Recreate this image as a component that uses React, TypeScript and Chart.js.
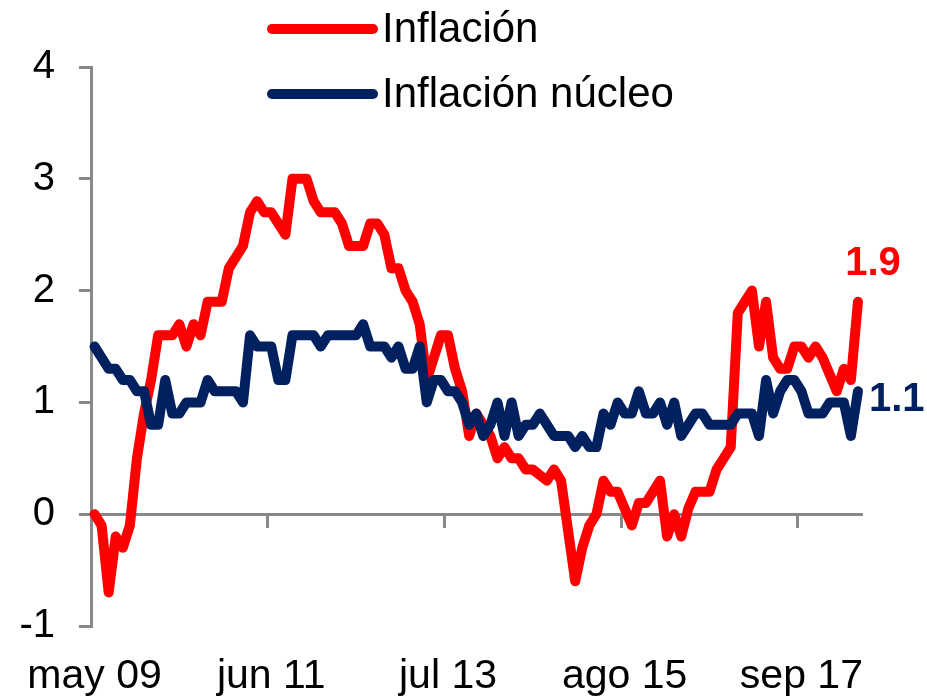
import React, { useEffect, useRef } from 'react';
import { Chart, registerables } from 'chart.js';

Chart.register(...registerables);

// ---- Data ----
const MONTHS = ['ene', 'feb', 'mar', 'abr', 'may', 'jun', 'jul', 'ago', 'sep', 'oct', 'nov', 'dic'];
const START_MONTH = 4; // may
const START_YEAR = 2009;

const inflacion = [
  0.0, -0.1, -0.7, -0.2, -0.3, -0.1, 0.5, 0.9, 1.2, 1.6,
  1.6, 1.6, 1.7, 1.5, 1.7, 1.6, 1.9, 1.9, 1.9, 2.2,
  2.3, 2.4, 2.7, 2.8, 2.7, 2.7, 2.6, 2.5, 3.0, 3.0,
  3.0, 2.8, 2.7, 2.7, 2.7, 2.6, 2.4, 2.4, 2.4, 2.6,
  2.6, 2.5, 2.2, 2.2, 2.0, 1.9, 1.7, 1.2, 1.4, 1.6,
  1.6, 1.3, 1.1, 0.7, 0.9, 0.8, 0.7, 0.5, 0.6, 0.5,
  0.5, 0.4, 0.4, 0.35, 0.3, 0.4, 0.3, -0.15, -0.6, -0.3,
  -0.1, 0.0, 0.3, 0.2, 0.2, 0.05, -0.1, 0.1, 0.1, 0.2,
  0.3, -0.2, 0.0, -0.2, 0.05, 0.2, 0.2, 0.2, 0.4, 0.5,
  0.6, 1.8, 1.9, 2.0, 1.5, 1.9, 1.4, 1.3, 1.3, 1.5,
  1.5, 1.4, 1.5, 1.4, 1.25, 1.1, 1.3, 1.2, 1.9,
];

const inflacionNucleo = [
  1.5, 1.4, 1.3, 1.3, 1.2, 1.2, 1.1, 1.1, 0.8, 0.8,
  1.2, 0.9, 0.9, 1.0, 1.0, 1.0, 1.2, 1.1, 1.1, 1.1,
  1.1, 1.0, 1.6, 1.5, 1.5, 1.5, 1.2, 1.2, 1.6, 1.6,
  1.6, 1.6, 1.5, 1.6, 1.6, 1.6, 1.6, 1.6, 1.7, 1.5,
  1.5, 1.5, 1.4, 1.5, 1.3, 1.3, 1.5, 1.0, 1.2, 1.2,
  1.1, 1.1, 1.0, 0.8, 0.9, 0.7, 0.8, 1.0, 0.7, 1.0,
  0.7, 0.8, 0.8, 0.9, 0.8, 0.7, 0.7, 0.7, 0.6, 0.7,
  0.6, 0.6, 0.9, 0.8, 1.0, 0.9, 0.9, 1.1, 0.9, 0.9,
  1.0, 0.8, 1.0, 0.7, 0.8, 0.9, 0.9, 0.8, 0.8, 0.8,
  0.8, 0.9, 0.9, 0.9, 0.7, 1.2, 0.9, 1.1, 1.2, 1.2,
  1.1, 0.9, 0.9, 0.9, 1.0, 1.0, 1.0, 0.7, 1.1,
];

const seriesLabels = ['Inflación', 'Inflación núcleo'];
const seriesColors = ['#FF0000', '#002060'];

// month categories: may 09 ... may 18
const categories = inflacion.map((_, i) => {
  const m = START_MONTH + i;
  const yy = String((START_YEAR + Math.floor(m / 12)) % 100).padStart(2, '0');
  return MONTHS[m % 12] + ' ' + yy;
});

const xLabelIndices = [0, 25, 50, 75, 100]; // may 09, jun 11, jul 13, ago 15, sep 17
const yTicks = [-1, 0, 1, 2, 3, 4];

// ---- Styles ----
const FONT = '"Liberation Sans", Arial, Helvetica, sans-serif';
const AXIS_GRAY = '#898989';

const overlayPlugin = {
  id: 'overlay',
  afterDraw(chart: any) {
    const ctx = chart.ctx as CanvasRenderingContext2D;
    ctx.save();
    // legend (stacked, top)
    const legendRows = [29, 94];
    chart.data.datasets.forEach((ds: any, i: number) => {
      const y = legendRows[i];
      ctx.strokeStyle = ds.borderColor;
      ctx.lineWidth = 10;
      ctx.lineCap = 'round';
      ctx.beginPath();
      ctx.moveTo(272, y);
      ctx.lineTo(373, y);
      ctx.stroke();
      ctx.fillStyle = '#000000';
      ctx.font = '42px ' + FONT;
      ctx.textAlign = 'left';
      ctx.textBaseline = 'middle';
      ctx.fillText(ds.label, 382, y + 1);
    });
    // end-of-series value labels
    const offsets = [
      { dx: 15, dy: -38, align: 'center' },
      { dx: 11, dy: 9, align: 'left' },
    ];
    chart.data.datasets.forEach((ds: any, i: number) => {
      const meta = chart.getDatasetMeta(i);
      const pt = meta.data[meta.data.length - 1];
      const val = ds.data[ds.data.length - 1].y;
      const o = offsets[i];
      ctx.fillStyle = ds.borderColor;
      ctx.font = 'bold 40px ' + FONT;
      ctx.textAlign = o.align as CanvasTextAlign;
      ctx.textBaseline = 'middle';
      ctx.fillText(val.toFixed(1), pt.x + o.dx, pt.y + o.dy);
    });
    ctx.restore();
  },
};

export default function App() {
  const ref = useRef<HTMLCanvasElement | null>(null);

  useEffect(() => {
    document.body.style.margin = '0';
    document.body.style.overflow = 'hidden';
    const canvas = ref.current;
    if (!canvas) return;
    const series = [inflacion, inflacionNucleo];
    const chart = new Chart(canvas, {
      type: 'line',
      data: {
        datasets: series.map((s, k) => ({
          label: seriesLabels[k],
          data: s.map((v, i) => ({ x: i, y: v })),
          borderColor: seriesColors[k],
          backgroundColor: seriesColors[k],
          borderWidth: 10,
          pointRadius: 0,
          pointHoverRadius: 0,
          fill: false,
          tension: 0,
          borderJoinStyle: 'round',
          borderCapStyle: 'round',
          order: 2 - k,
          clip: false,
        })),
      },
      options: {
        responsive: false,
        animation: false,
        events: [],
        layout: { padding: { top: 67, right: 65.5, bottom: 0, left: 0 } },
        plugins: {
          legend: { display: false },
          tooltip: { enabled: false },
          title: { display: false },
        },
        scales: {
          x: {
            type: 'linear',
            position: 'bottom',
            min: -0.5,
            max: 108.5,
            bounds: 'data',
            grid: { display: false, drawTicks: false },
            border: { display: false },
            ticks: {
              autoSkip: false,
              maxRotation: 0,
              padding: 26,
              color: '#000000',
              font: { family: FONT, size: 41 },
              callback: (v: any) => categories[Math.round(Number(v))] ?? '',
            },
            afterBuildTicks: (s: any) => {
              s.ticks = xLabelIndices.map((v) => ({ value: v }));
            },
            afterFit: (s: any) => {
              s.height = 73;
            },
          },
          x0: {
            type: 'linear',
            axis: 'x',
            position: { y: 0 },
            min: -0.5,
            max: 108.5,
            bounds: 'data',
            grid: {
              display: true,
              drawOnChartArea: false,
              drawTicks: true,
              tickLength: 12,
              color: AXIS_GRAY,
              lineWidth: 3,
            },
            border: { display: true, color: AXIS_GRAY, width: 3 },
            ticks: { display: false },
            afterBuildTicks: (s: any) => {
              s.ticks = xLabelIndices.map((v) => ({ value: v - 0.5 }));
            },
          },
          y: {
            type: 'linear',
            min: -1,
            max: 4,
            bounds: 'data',
            grid: {
              display: true,
              drawOnChartArea: false,
              drawTicks: true,
              tickLength: 12,
              color: AXIS_GRAY,
              lineWidth: 3,
            },
            border: { display: true, color: AXIS_GRAY, width: 3 },
            ticks: {
              padding: 24,
              color: '#000000',
              font: { family: FONT, size: 40 },
              callback: (v: any) => String(v),
            },
            afterBuildTicks: (s: any) => {
              s.ticks = yTicks.map((v) => ({ value: v }));
            },
            afterFit: (s: any) => {
              s.width = 91;
            },
          },
        },
      } as any,
      plugins: [overlayPlugin],
    });
    return () => chart.destroy();
  }, []);

  return (
    <div style={{ width: 927, height: 699, background: '#ffffff' }}>
      <canvas ref={ref} width={927} height={699} style={{ display: 'block' }} />
    </div>
  );
}
